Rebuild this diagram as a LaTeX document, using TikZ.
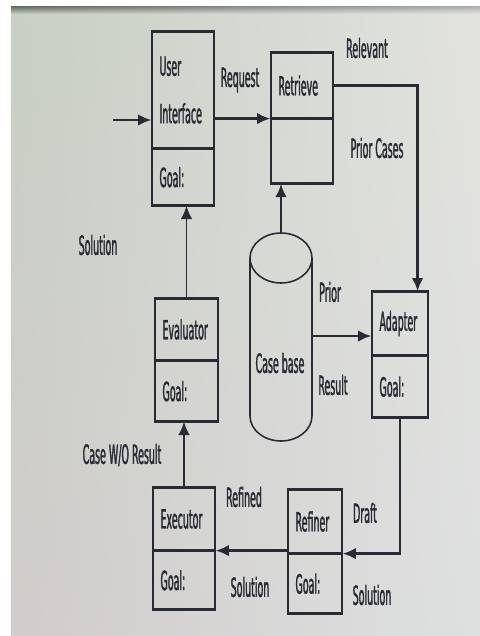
\documentclass[tikz,border=0pt]{standalone}
\usepackage{fontspec}
\setmainfont{DejaVu Sans}[FakeStretch=0.36, FakeBold=1.2]
\usetikzlibrary{positioning,calc,arrows.meta,shadings}
\definecolor{ink}{RGB}{40,43,52}
\definecolor{paper}{RGB}{226,227,222}
\definecolor{paper left}{RGB}{200,207,196}
\definecolor{paper low}{RGB}{208,204,203}
\definecolor{paper low right}{RGB}{222,224,224}
\definecolor{rim}{RGB}{95,104,96}
\definecolor{rim right}{RGB}{170,174,168}
\tikzset{%
  part box/.style 2 args={draw=ink, line width=0.7pt, inner xsep=0.15cm, text width=#1,
    minimum height=#2, align=left, font=\fontsize{15}{18}\selectfont, text=ink},
  heavy/.style={draw=ink, line width=1.6pt},
  flow/.style={draw=ink, line width=1.4pt, -{Latex[length=7.5pt,width=6.5pt]}},
  thin flow/.style={flow, line width=0.9pt},
  tag/.style={font=\fontsize{15}{18}\selectfont, text=ink, inner sep=1pt}
}
\begin{document}
\begin{tikzpicture}[x=0.02cm, y=-0.02cm]
  % photo background
  \fill[white] (0,0) rectangle (480,636);
  \shade[upper left=paper left, upper right=paper, lower left=paper low,
    lower right=paper low right] (11,6) rectangle (480,636);
  \shade[upper left=rim, upper right=rim right, lower left=paper left,
    lower right=paper] (11,6) rectangle (480,14);
  \useasboundingbox (0,0) rectangle (480,636);

  % agents
  \node[part box={0.94cm}{2.32cm}] (ui) at (183,90) {User\\[9pt]Interface};
  \node[part box={0.94cm}{1.12cm}, below=0pt of ui] (ui-g) {Goal:};
  \node[part box={0.94cm}{1.3cm}] (rt) at (302,85.5) {Retrieve};
  \node[part box={0.94cm}{1.28cm}, below=0pt of rt] (rt-g) {};
  \node[part box={0.82cm}{1.26cm}] (ad) at (400,323.5) {Adapter};
  \node[part box={0.82cm}{1.22cm}, below=0pt of ad] (ad-g) {Goal:};
  \node[part box={0.96cm}{1.22cm}] (ev) at (186.5,329.5) {Evaluator};
  \node[part box={0.96cm}{1.2cm}, below=0pt of ev] (ev-g) {Goal:};
  \node[part box={0.94cm}{1.24cm}] (ex) at (184,519) {Executor};
  \node[part box={0.94cm}{1.16cm}, below=0pt of ex] (ex-g) {Goal:};
  \node[part box={0.78cm}{1.26cm}] (rf) at (315,521.5) {Refiner};
  \node[part box={0.78cm}{1.18cm}, below=0pt of rf] (rf-g) {Goal:};

  \foreach \b in {ui,rt,ad,ev,ex,rf}
    \draw[heavy] (\b.north west) -- (\b.north east) (\b.south west) -- (\b.south east)
      (\b-g.south west) -- (\b-g.south east);

  % case base
  \draw[ink, line width=0.9pt] (250,258) -- (250,416)
    arc[start angle=180, end angle=360, x radius=0.62cm, y radius=0.5cm] -- (312,258);
  \draw[ink, line width=0.9pt] (281,258) ellipse[x radius=0.62cm, y radius=0.5cm];
  \node[tag] (cb) at (280,363) {Case base};
  \coordinate (cb-top) at (281,233);
  \coordinate (cb-out) at (312,336);

  % connectors
  \coordinate (in) at (113,120);
  \coordinate (ad-in) at ($(ad.north east)+(-11,0)$);
  \draw[flow] (in) -- (in -| ui.west);
  \draw[flow] (ui.east |- rt-g.north) -- (rt-g.north west);
  \draw[flow] (rt.east) -| (ad-in);
  \draw[flow] (cb-top) -- (cb-top |- rt-g.south);
  \draw[flow] (cb-out) -- (cb-out -| ad.west);
  \draw[flow] (ad-g.south) |- (rf-g.north east);
  \draw[flow] (rf-g.north west |- ex-g.north) -- (ex-g.north east);
  \draw[thin flow] (ex.north) -- (ex.north |- ev-g.south);
  \draw[thin flow] (ev.north) -- (ev.north |- ui-g.south);

  % labels
  \node[tag] (request) at (240,80) {Request};
  \node[tag] (relevant) at (367,48) {Relevant};
  \node[tag] (prior-cases) at (377,148) {Prior Cases};
  \node[tag] (solution-up) at (98,245) {Solution};
  \node[tag] (prior) at (330,292) {Prior};
  \node[tag] (result) at (333,385) {Result};
  \node[tag] (wo-result) at (122,455) {Case W/O Result};
  \node[tag] (refined) at (244,497) {Refined};
  \node[tag] (solution-mid) at (250,587) {Solution};
  \node[tag] (draft) at (365,513) {Draft};
  \node[tag] (solution-low) at (372,595) {Solution};
\end{tikzpicture}
\end{document}
